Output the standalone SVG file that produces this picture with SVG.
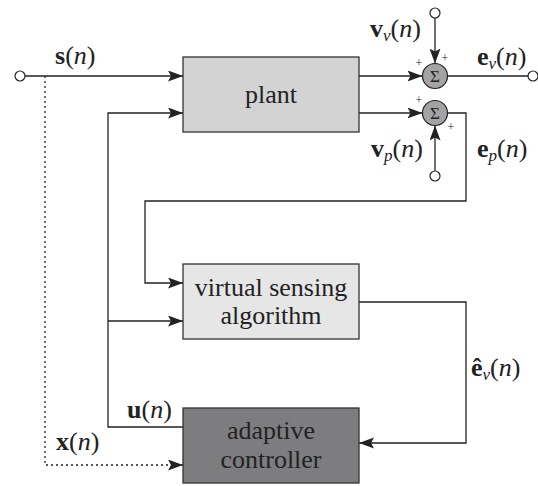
<svg xmlns="http://www.w3.org/2000/svg" width="538" height="486" viewBox="0 0 538 486">
<style>
.box{stroke:#333;stroke-width:1.3}
.ln{fill:none;stroke:#222;stroke-width:1.3}
.dot{fill:none;stroke:#222;stroke-width:1.3;stroke-dasharray:2,3}
.port{fill:#fff;stroke:#222;stroke-width:1.2}
.sum{fill:#a3a3a3;stroke:#222;stroke-width:1.2}
.t{font-family:"Liberation Serif","Times New Roman",serif;fill:#222}
.big{font-size:26px}
.lab{font-size:26px}
.sub{font-size:17px;font-style:italic}
.pl{font-size:12px}
.b{font-weight:bold}
.i{font-style:italic}
</style>
<defs>
<marker id="ar" markerUnits="userSpaceOnUse" markerWidth="16" markerHeight="12" refX="15" refY="5.5" orient="auto">
<path d="M0,0 L15,5.5 L0,11 L3,5.5 z" fill="#222"/>
</marker>
</defs>
<g id="connectors">
<circle class="port" cx="20" cy="76" r="5"/>
<line class="ln" x1="25" y1="76" x2="183" y2="76" marker-end="url(#ar)"/>
<polyline class="dot" points="45,76 45,465 183,465" marker-end="url(#ar)"/>
<polyline class="ln" points="183,427 108,427 108,113 183,113" marker-end="url(#ar)"/>
<line class="ln" x1="108" y1="321" x2="183" y2="321" marker-end="url(#ar)"/>
<line class="ln" x1="359" y1="76" x2="422.5" y2="76" marker-end="url(#ar)"/>
<line class="ln" x1="359" y1="113" x2="422.5" y2="113" marker-end="url(#ar)"/>
<circle class="port" cx="435" cy="13" r="5"/>
<line class="ln" x1="435" y1="18" x2="435" y2="63.5" marker-end="url(#ar)"/>
<circle class="port" cx="435" cy="176" r="5"/>
<line class="ln" x1="435" y1="171" x2="435" y2="125.5" marker-end="url(#ar)"/>
<line class="ln" x1="447.5" y1="76" x2="528" y2="76"/>
<circle class="port" cx="533" cy="76" r="5"/>
<polyline class="ln" points="447.5,113 466,113 466,201 145,201 145,283 183,283" marker-end="url(#ar)"/>
<polyline class="ln" points="359,302 466,302 466,443 359,443" marker-end="url(#ar)"/>
</g>
<g id="plant">
<rect class="box" x="183" y="57" width="176" height="75" fill="#d3d3d3"/>
<text class="t big" x="271" y="103" text-anchor="middle">plant</text>
</g>
<g id="vsa">
<rect class="box" x="183" y="264" width="176" height="75" fill="#e6e6e6"/>
<text class="t big" x="271" y="296" text-anchor="middle">virtual sensing</text>
<text class="t big" x="271" y="324" text-anchor="middle">algorithm</text>
</g>
<g id="controller">
<rect class="box" x="183" y="408" width="176" height="75" fill="#7d7d7f"/>
<text class="t big" x="271" y="439" text-anchor="middle">adaptive</text>
<text class="t big" x="271" y="468" text-anchor="middle">controller</text>
</g>
<g id="sum1">
<circle class="sum" cx="435" cy="76" r="12.5"/>
<text class="t" x="435" y="82" font-size="17" text-anchor="middle">Σ</text>
<text class="t pl" x="415.5" y="67">+</text>
<text class="t pl" x="441.5" y="62">+</text>
</g>
<g id="sum2">
<circle class="sum" cx="435" cy="113" r="12.5"/>
<text class="t" x="435" y="119" font-size="17" text-anchor="middle">Σ</text>
<text class="t pl" x="415.5" y="104">+</text>
<text class="t pl" x="447.5" y="131">+</text>
</g>
<g id="labels">
<text class="t lab" x="55" y="64"><tspan class="b">s</tspan>(<tspan class="i">n</tspan>)</text>
<text class="t lab" x="370" y="37"><tspan class="b">v</tspan><tspan class="sub" dy="4">v</tspan><tspan dy="-4">(</tspan><tspan class="i">n</tspan>)</text>
<text class="t lab" x="477" y="65"><tspan class="b">e</tspan><tspan class="sub" dy="4">v</tspan><tspan dy="-4">(</tspan><tspan class="i">n</tspan>)</text>
<text class="t lab" x="371" y="157"><tspan class="b">v</tspan><tspan class="sub" dy="4">p</tspan><tspan dy="-4">(</tspan><tspan class="i">n</tspan>)</text>
<text class="t lab" x="477" y="157"><tspan class="b">e</tspan><tspan class="sub" dy="4">p</tspan><tspan dy="-4">(</tspan><tspan class="i">n</tspan>)</text>
<text class="t lab" x="471" y="376"><tspan class="b">ê</tspan><tspan class="sub" dy="4">v</tspan><tspan dy="-4">(</tspan><tspan class="i">n</tspan>)</text>
<text class="t lab" x="127" y="418"><tspan class="b">u</tspan>(<tspan class="i">n</tspan>)</text>
<text class="t lab" x="56" y="450"><tspan class="b">x</tspan>(<tspan class="i">n</tspan>)</text>
</g>
</svg>
